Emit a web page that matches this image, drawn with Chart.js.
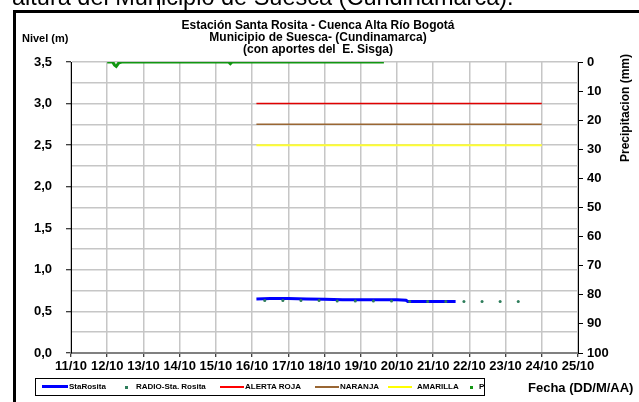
<!DOCTYPE html>
<html>
<head>
<meta charset="utf-8">
<script src="https://cdn.jsdelivr.net/npm/chart.js@4.4.1/dist/chart.umd.min.js"></script>
<style>
  html, body { margin: 0; padding: 0; background: #fff; }
  body { width: 639px; height: 402px; position: relative; overflow: hidden; font-family: "Liberation Sans", Arial, sans-serif; }
  #wrap { position: absolute; left: 0; top: 0; width: 639px; height: 402px; }
  canvas { display: block; }
  .abs { position: absolute; white-space: nowrap; color: #000; }
  #toptext { left: 12px; top: -15px; font-size: 23.5px; line-height: 24px; }
  #frameTop { position: absolute; left: 13px; top: 10px; width: 626px; height: 3px; background: #000; }
  #frameLeft { position: absolute; left: 13px; top: 10px; width: 3px; height: 392px; background: #000; }
  #cursor { position: absolute; left: 159px; top: 0; width: 1px; height: 11px; background: #000; }
  #title { left: 118px; width: 400px; top: 19px; text-align: center; font-size: 12px; line-height: 12px; font-weight: bold; }
  #nivel { left: 22px; top: 32px; font-size: 11px; font-weight: bold; }
  #fecha { left: 528px; top: 380px; font-size: 13px; font-weight: bold; }
  #precip { left: 625px; top: 108px; font-size: 12px; font-weight: bold; transform: translate(-50%, -50%) rotate(-90deg); transform-origin: center; }
  #legend { position: absolute; left: 35px; top: 378px; width: 450px; height: 18px; border: 1px solid #000; box-sizing: border-box; font-size: 8px; font-weight: bold; }
  .li { position: absolute; top: 0; height: 16px; line-height: 16px; }
  .ln { position: absolute; top: 7px; height: 2px; }
  .dt { position: absolute; top: 7px; width: 3px; height: 3px; }
</style>
</head>
<body>
<div id="wrap"><canvas id="c" width="639" height="402"></canvas></div>
<div id="toptext" class="abs">altura del Municipio de Suesca (Cundinamarca).</div>
<div id="cursor"></div>
<div id="frameTop"></div>
<div id="frameLeft"></div>
<div id="title" class="abs">Estación Santa Rosita - Cuenca Alta Río Bogotá<br>Municipio de Suesca- (Cundinamarca)<br>(con aportes del&nbsp; E. Sisga)</div>
<div id="nivel" class="abs">Nivel (m)</div>
<div id="precip" class="abs">Precipitacion (mm)</div>
<div id="fecha" class="abs">Fecha (DD/M/AA)</div>
<div id="legend">
  <div class="ln" style="left:6px;width:26px;background:#0000ff;height:3px;top:6px"></div>
  <div class="li" style="left:33px">StaRosita</div>
  <div class="dt" style="left:89px;background:#2e7d5b"></div>
  <div class="li" style="left:100px">RADIO-Sta. Rosita</div>
  <div class="ln" style="left:184px;width:24px;background:#ff0000"></div>
  <div class="li" style="left:209px">ALERTA ROJA</div>
  <div class="ln" style="left:279px;width:24px;background:#996633"></div>
  <div class="li" style="left:304px">NARANJA</div>
  <div class="ln" style="left:352px;width:24px;background:#ffff00"></div>
  <div class="li" style="left:381px">AMARILLA</div>
  <div class="dt" style="left:434px;background:#129612"></div>
  <div class="li" style="left:443px">P</div>
</div>
<script>
// ---- Data (x = day of October, fractional) ----
const tickDays = [11, 12, 13, 14, 15, 16, 17, 18, 19, 20, 21, 22, 23, 24, 25];
const tickLabels = ['11/10','12/10','13/10','14/10','15/10','16/10','17/10','18/10','19/10','20/10','21/10','22/10','23/10','24/10','25/10'];

const staTimes = [16.12, 16.5, 17.0, 17.5, 18.0, 18.5, 19.0, 19.5, 20.0, 20.25, 20.3, 20.7, 21.0, 21.3, 21.62];
const staLevel = [0.65, 0.655, 0.655, 0.65, 0.645, 0.64, 0.64, 0.64, 0.64, 0.635, 0.62, 0.62, 0.62, 0.62, 0.62];

const radioTimes = [16.35, 16.85, 17.35, 17.85, 18.35, 18.85, 19.35, 19.85, 20.35, 20.85, 21.35, 21.85, 22.35, 22.85, 23.35];
const radioLevel = [0.63, 0.63, 0.63, 0.63, 0.625, 0.625, 0.625, 0.625, 0.62, 0.62, 0.62, 0.62, 0.62, 0.62, 0.62];

const alertTimes = [16.12, 24.0];
const alertaRoja = [3.0, 3.0];
const naranja = [2.75, 2.75];
const amarilla = [2.5, 2.5];

const pTimes = [12.0, 12.15, 12.2, 12.25, 12.32, 12.4, 15.35, 15.4, 15.45, 19.64];
const pValues = [0, 0, 1.0, 1.5, 0.3, 0, 0, 0.6, 0, 0];

const pts = (xs, ys) => xs.map((x, i) => ({ x: x, y: ys[i] }));
const isMajor = v => Math.abs(v * 2 - Math.round(v * 2)) < 1e-6;
const tickFont = { family: 'Liberation Sans', size: 13, weight: 'bold' };

new Chart(document.getElementById('c'), {
  type: 'line',
  data: {
    datasets: [
      { label: 'P', data: pts(pTimes, pValues), yAxisID: 'y2', borderColor: '#129612', borderWidth: 3, pointRadius: 0, tension: 0 },
      { label: 'RADIO-Sta. Rosita', data: pts(radioTimes, radioLevel), yAxisID: 'y', showLine: false, pointRadius: 1.5, pointBackgroundColor: '#2e7d5b', pointBorderWidth: 0 },
      { label: 'StaRosita', data: pts(staTimes, staLevel), yAxisID: 'y', borderColor: '#0000ff', borderWidth: 3, pointRadius: 0, tension: 0 },
      { label: 'ALERTA ROJA', data: pts(alertTimes, alertaRoja), yAxisID: 'y', borderColor: '#e00000', borderWidth: 1.5, pointRadius: 0 },
      { label: 'NARANJA', data: pts(alertTimes, naranja), yAxisID: 'y', borderColor: '#996633', borderWidth: 1.5, pointRadius: 0 },
      { label: 'AMARILLA', data: pts(alertTimes, amarilla), yAxisID: 'y', borderColor: '#ffff33', borderWidth: 2, pointRadius: 0 }
    ]
  },
  options: {
    responsive: false,
    animation: false,
    layout: { padding: { left: 0, right: 0, top: 62, bottom: 25 } },
    plugins: { legend: { display: false }, title: { display: false }, tooltip: { enabled: false } },
    scales: {
      x: {
        type: 'linear', min: 11, max: 25,
        afterBuildTicks: s => { s.ticks = tickDays.map(v => ({ value: v })); },
        afterFit: s => { s.height = 24; },
        ticks: { callback: v => tickLabels[tickDays.indexOf(v)], color: '#000', font: tickFont, maxRotation: 0, autoSkip: false, padding: 2 },
        grid: { color: '#c6c6c6', lineWidth: 1.5, tickColor: '#000', tickLength: 4, tickWidth: 1 },
        border: { color: '#808080', width: 2 }
      },
      y: {
        position: 'left', min: 0, max: 3.5,
        afterBuildTicks: s => { const t = []; for (let i = 0; i <= 14; i++) t.push({ value: i * 0.25 }); s.ticks = t; },
        afterFit: s => { s.width = 71; },
        ticks: { callback: v => isMajor(v) ? v.toFixed(1).replace('.', ',') : '', color: '#000', font: tickFont, padding: 14 },
        grid: { color: '#c6c6c6', lineWidth: 1.5, tickColor: c => isMajor(c.tick.value) ? '#000' : 'rgba(0,0,0,0)', tickLength: 5, tickWidth: 1 },
        border: { color: '#000', width: 1 }
      },
      y2: {
        position: 'right', min: 0, max: 100, reverse: true,
        afterBuildTicks: s => { const t = []; for (let i = 0; i <= 10; i++) t.push({ value: i * 10 }); s.ticks = t; },
        afterFit: s => { s.width = 61; },
        ticks: { color: '#000', font: tickFont, padding: 4 },
        grid: { drawOnChartArea: false, tickColor: '#000', tickLength: 5, tickWidth: 1 },
        border: { color: '#000', width: 1 }
      }
    }
  }
});
</script>
</body>
</html>
